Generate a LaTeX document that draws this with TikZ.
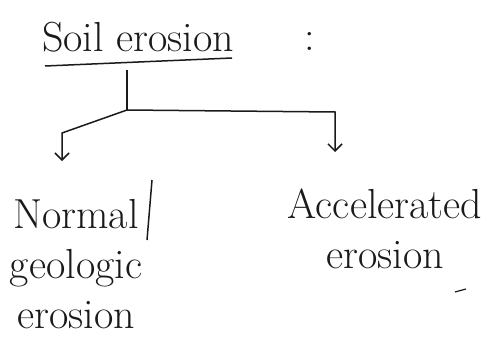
\documentclass[tikz,border=0pt]{standalone}
\usepackage{amsmath,xcolor,tikz}
\usetikzlibrary{arrows.meta,positioning,calc}
\definecolor{Ink}{HTML}{1A1A1A}

\begin{document}
\begin{tikzpicture}[x=1pt, y=-1pt, line width=1.5pt, draw=Ink,
    txt/.style={text=Ink, align=center, inner sep=2pt, font=\fontsize{42}{50}\selectfont},
    arr/.style={->, >={Straight Barb[length=7pt,width=14pt]}}]
  \useasboundingbox (0,0) rectangle (489,345);
  % title
  \node[txt, anchor=base] (soil) at (138,52) {Soil erosion};
  \node[txt, anchor=base] (colon) at (310,50) {:};
  \draw (45,66) -- (232,58);
  % branches
  \node[txt, anchor=base] (norm) at (76,328) {Normal\\ geologic\\ erosion};
  \node[txt, anchor=base] (accel) at (385,268) {Accelerated\\ erosion};
  \coordinate (top) at (127,70);
  \coordinate (jn) at (127,110);
  \coordinate (lk) at (62,133);
  \coordinate (rk) at (335,112);
  \draw (top) -- (jn);
  \draw[arr] (jn) -- (lk) -- (62,161);
  \draw[arr] (jn) -- (rk) -- (335,152);
  % stray strokes
  \draw (152,180) -- (147,240);
  \draw[line width=1.2pt] (455,292) -- (466,289);
\end{tikzpicture}
\end{document}
